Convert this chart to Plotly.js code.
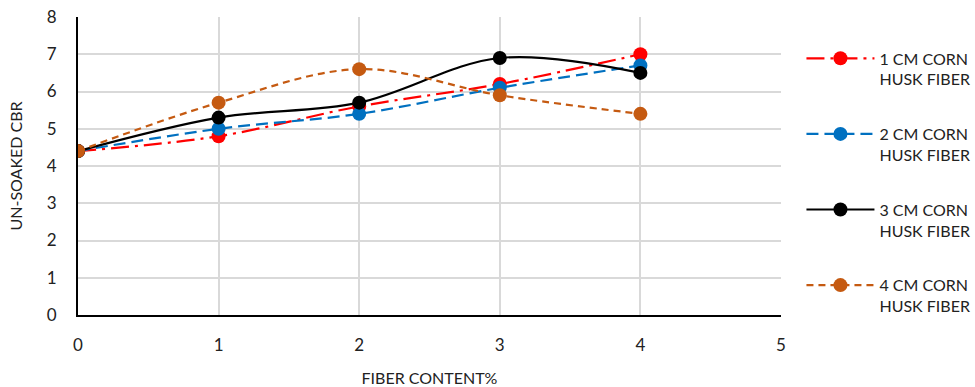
<!DOCTYPE html>
<html><head><meta charset="utf-8">
<script src="https://cdn.plot.ly/plotly-3.0.1.min.js"></script>
<style>html,body{margin:0;padding:0;background:#fff}</style>
</head><body>
<div id="chart" style="width:975px;height:387px"></div>
<script>
const fiberContent = [0, 1, 2, 3, 4];
const seriesNames = ["1 CM CORN<br>HUSK FIBER", "2 CM CORN<br>HUSK FIBER", "3 CM CORN<br>HUSK FIBER", "4 CM CORN<br>HUSK FIBER"];
const cm1 = [4.4, 4.8, 5.6, 6.2, 7.0];
const cm2 = [4.4, 5.0, 5.4, 6.1, 6.7];
const cm3 = [4.4, 5.3, 5.7, 6.9, 6.5];
const cm4 = [4.4, 5.7, 6.6, 5.9, 5.4];
const colors = ["#ff0000", "#0070c0", "#000000", "#c55a11"];
const dashPatterns = ["18px,6px,3px,6px", "12px,6px", "solid", "7px,5px"];
const values = [cm1, cm2, cm3, cm4];

const traces = values.map((v, i) => ({
  x: fiberContent, y: v, name: seriesNames[i], type: "scatter", mode: "lines+markers",
  line: {color: colors[i], width: 2.2, dash: dashPatterns[i], shape: "spline", smoothing: 1},
  marker: {color: colors[i], size: 14},
  legendgroup: "g" + i
}));

const font = {family: "Lato, 'Open Sans', sans-serif", size: 17, color: "#222"};
Plotly.newPlot("chart", traces, {
  width: 975, height: 387,
  margin: {l: 78, r: 194, t: 17, b: 72},
  paper_bgcolor: "#fff", plot_bgcolor: "#fff",
  font: font,
  xaxis: {range: [0, 5], dtick: 1, showgrid: true, gridcolor: "#d9d9d9", gridwidth: 1.5,
    zeroline: false, showline: true, linecolor: "#000", linewidth: 2, ticks: "",
    ticklabelstandoff: 14,
    title: {text: "FIBER CONTENT%", font: {size: 16}, standoff: 20}, tickfont: {size: 17}},
  yaxis: {range: [0, 8], dtick: 1, showgrid: true, gridcolor: "#d9d9d9", gridwidth: 1.5,
    zeroline: false, showline: true, linecolor: "#000", linewidth: 2, ticks: "",
    ticklabelstandoff: 16,
    title: {text: "UN-SOAKED CBR", font: {size: 16}, standoff: 20}, tickfont: {size: 17}},
  showlegend: true,
  legend: {xref: "container", yref: "container", x: 0.822, y: 0.893, yanchor: "top", xanchor: "left",
    maxheight: 1, font: {size: 16}, tracegroupgap: 31, itemwidth: 68, valign: "top", bgcolor: "rgba(0,0,0,0)"}
}, {displayModeBar: false});
</script>
</body></html>
